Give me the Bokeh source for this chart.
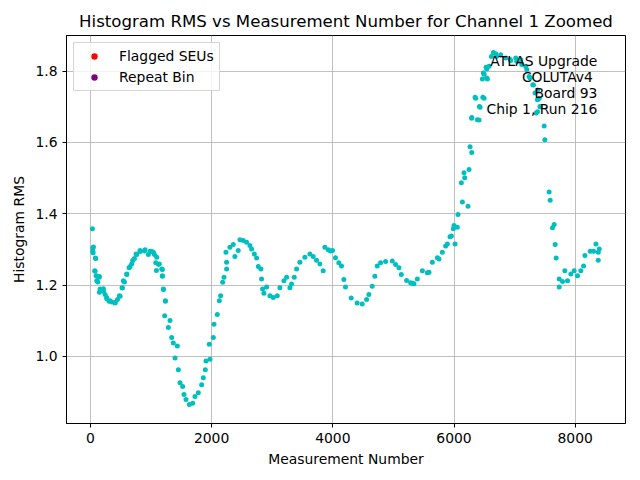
from bokeh.plotting import figure
from bokeh.models import Range1d, FixedTicker, Label, Legend, LegendItem
from bokeh.embed import file_html
from bokeh.resources import INLINE

meas = [33, 38, 38, 44, 50, 71, 77, 82, 88, 93, 104, 121, 121, 143, 148, 148,
        159, 176, 214, 215, 242, 269, 270, 308, 324, 352, 407, 407, 446, 478,
        490, 522, 528, 544, 561, 599, 600, 638, 654, 682, 698, 726, 753, 765,
        819, 820, 891, 901, 957, 984, 1012, 1039, 1056, 1078, 1089, 1094, 1122,
        1137, 1176, 1187, 1188, 1188, 1203, 1205, 1225, 1236, 1238, 1286, 1313,
        1341, 1368, 1396, 1434, 1451, 1478, 1522, 1544, 1577, 1632, 1687, 1725,
        1780, 1835, 1863, 1896, 1907, 1962, 1973, 2028, 2039, 2094, 2127, 2148,
        2182, 2204, 2236, 2247, 2247, 2302, 2357, 2384, 2439, 2467, 2522, 2577,
        2632, 2660, 2704, 2742, 2770, 2813, 2824, 2841, 2863, 2907, 2962, 3017,
        3083, 3127, 3193, 3237, 3292, 3319, 3363, 3402, 3456, 3539, 3621, 3676,
        3731, 3786, 3841, 3869, 3924, 3961, 3995, 4044, 4099, 4143, 4182, 4209,
        4303, 4402, 4485, 4557, 4595, 4650, 4694, 4733, 4788, 4871, 4981, 5036,
        5091, 5130, 5218, 5284, 5311, 5339, 5394, 5477, 5559, 5587, 5642, 5725,
        5752, 5807, 5862, 5890, 5934, 5956, 5989, 6000, 6017, 6055, 6066, 6121,
        6138, 6165, 6176, 6231, 6248, 6264, 6292, 6292, 6293, 6348, 6358, 6386,
        6413, 6419, 6430, 6468, 6475, 6485, 6496, 6496, 6529, 6540, 6540, 6551,
        6579, 6617, 6650, 6689, 6705, 6771, 6854, 6925, 6937, 7019, 7035, 7102,
        7118, 7185, 7201, 7240, 7256, 7300, 7311, 7338, 7355, 7377, 7378, 7378,
        7405, 7420, 7422, 7488, 7499, 7570, 7587, 7625, 7653, 7669, 7686, 7736,
        7736, 7791, 7829, 7873, 7928, 7983, 8038, 8093, 8138, 8160, 8248, 8303,
        8342, 8380, 8397, 8380]
rms = [1.358, 1.305, 1.295, 1.291, 1.307, 1.240, 1.239, 1.276, 1.275, 1.226,
       1.212, 1.225, 1.209, 1.222, 1.224, 1.180, 1.189, 1.188, 1.190, 1.183,
       1.174, 1.165, 1.162, 1.155, 1.156, 1.153, 1.151, 1.150, 1.160, 1.170,
       1.169, 1.193, 1.192, 1.212, 1.209, 1.231, 1.230, 1.249, 1.252, 1.260,
       1.269, 1.275, 1.287, 1.286, 1.297, 1.294, 1.296, 1.299, 1.286, 1.295,
       1.294, 1.292, 1.286, 1.263, 1.241, 1.278, 1.258, 1.259, 1.245, 1.226,
       1.244, 1.225, 1.189, 1.188, 1.114, 1.156, 1.155, 1.081, 1.101, 1.053,
       1.038, 0.996, 1.029, 0.963, 0.926, 0.916, 0.893, 0.879, 0.865, 0.869,
       0.888, 0.898, 0.921, 0.940, 0.963, 0.987, 1.034, 0.992, 1.053, 1.090,
       1.118, 1.156, 1.170, 1.208, 1.222, 1.292, 1.245, 1.264, 1.306, 1.314,
       1.280, 1.297, 1.327, 1.325, 1.320, 1.311, 1.301, 1.287, 1.276, 1.252,
       1.245, 1.217, 1.189, 1.177, 1.195, 1.170, 1.165, 1.170, 1.193, 1.212,
       1.222, 1.193, 1.203, 1.222, 1.245, 1.264, 1.278, 1.287, 1.280, 1.270,
       1.259, 1.240, 1.306, 1.299, 1.296, 1.297, 1.277, 1.263, 1.254, 1.216,
       1.195, 1.164, 1.150, 1.147, 1.160, 1.174, 1.197, 1.225, 1.254, 1.263,
       1.266, 1.268, 1.258, 1.249, 1.230, 1.213, 1.207, 1.205, 1.204, 1.217,
       1.240, 1.235, 1.236, 1.264, 1.277, 1.273, 1.292, 1.310, 1.315, 1.336,
       1.338, 1.358, 1.367, 1.315, 1.362, 1.398, 1.487, 1.433, 1.515, 1.501,
       1.421, 1.524, 1.588, 1.572, 1.668, 1.670, 1.727, 1.724, 1.664, 1.663,
       1.701, 1.699, 1.778, 1.727, 1.795, 1.724, 1.791, 1.811, 1.806, 1.781,
       1.778, 1.814, 1.841, 1.852, 1.849, 1.842, 1.846, 1.837, 1.833, 1.830,
       1.837, 1.828, 1.832, 1.819, 1.813, 1.805, 1.785, 1.781, 1.762, 1.761,
       1.739, 1.683, 1.720, 1.747, 1.686, 1.724, 1.701, 1.700, 1.646, 1.608,
       1.461, 1.438, 1.361, 1.370, 1.314, 1.276, 1.217, 1.195, 1.210, 1.240,
       1.212, 1.231, 1.240, 1.226, 1.240, 1.254, 1.283, 1.295, 1.295, 1.315,
       1.292, 1.301, 1.270]

x_ticks = [0, 2000, 4000, 6000, 8000]
y_ticks = [1.0, 1.2, 1.4, 1.6, 1.8]
info_lines = ["ATLAS Upgrade", "COLUTAv4 ", "Board 93", "Chip 1, Run 216"]

FONT = "DejaVu Sans"
FS = "13.9px"

p = figure(width=632, height=472, output_backend="svg", toolbar_location=None,
           title="Histogram RMS vs Measurement Number for Channel 1 Zoomed",
           x_range=Range1d(-395, 8830), y_range=Range1d(0.812, 1.900),
           min_border_left=66, min_border_right=7, min_border_top=35,
           min_border_bottom=49)
p.title.text_font = FONT
p.title.text_font_size = "16.6px"
p.title.text_font_style = "normal"
p.title.text_color = "black"
p.title.align = "center"

p.outline_line_color = "black"
p.outline_line_width = 1
p.outline_line_alpha = 1

for ax in (p.xaxis[0], p.yaxis[0]):
    ax.axis_label_text_font = FONT
    ax.axis_label_text_font_size = FS
    ax.axis_label_text_font_style = "normal"
    ax.axis_label_text_color = "black"
    ax.major_label_text_font = FONT
    ax.major_label_text_font_size = FS
    ax.major_label_text_color = "black"
    ax.major_tick_in = 0
    ax.major_tick_out = 4
    ax.major_tick_line_color = "black"
    ax.minor_tick_line_color = None
    ax.axis_line_color = "black"

p.xaxis.axis_label = "Measurement Number"
p.yaxis.axis_label = "Histogram RMS"
p.xaxis.ticker = FixedTicker(ticks=x_ticks)
p.yaxis.ticker = FixedTicker(ticks=y_ticks)
p.yaxis.major_label_overrides = {t: "%.1f" % t for t in y_ticks}

p.grid.grid_line_color = "#b0b0b0"
p.grid.grid_line_width = 0.8
p.xgrid.ticker = FixedTicker(ticks=x_ticks)
p.ygrid.ticker = FixedTicker(ticks=y_ticks)

p.scatter(meas, rms, size=5, color="#00bfbf", line_width=0)

# no flagged / repeated bins: series exist only for the legend
nan = float("nan")
seu = p.scatter([nan], [nan], size=4.5, color="red", line_width=0)
rep = p.scatter([nan], [nan], size=4.5, color="purple", line_width=0)

legend = Legend(items=[LegendItem(label="Flagged SEUs", renderers=[seu]),
                       LegendItem(label="Repeat Bin", renderers=[rep])],
                location="top_left")
legend.label_text_font = FONT
legend.label_text_font_size = FS
legend.label_text_color = "black"
legend.glyph_width = 30
legend.glyph_height = 16
legend.label_standoff = 10
legend.spacing = 5
legend.padding = 5
legend.margin = 7
legend.border_line_color = "#cccccc"
legend.border_line_alpha = 0.8
legend.background_fill_alpha = 0.8
p.add_layout(legend)

for i, line in enumerate(info_lines):
    p.add_layout(Label(x=8365, y=1.828 - 0.045 * i, text=line,
                       text_align="right", text_baseline="middle",
                       text_font=FONT, text_font_size=FS,
                       text_color="black"))

open("out.html", "w").write(file_html(p, INLINE))
